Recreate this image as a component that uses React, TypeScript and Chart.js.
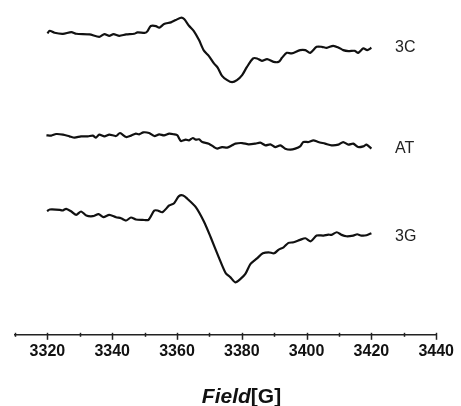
import React, { useEffect, useRef } from "react";
import { Chart, registerables } from "chart.js";

Chart.register(...registerables);

// Magnetic field (G) and signal intensity (a.u., stacked traces)
const field3C = [3320, 3320.7, 3322.2, 3324.8, 3327.4, 3328.9, 3333, 3336, 3337.6, 3339.1, 3340.4, 3342.2, 3344.3, 3346.8, 3347.8, 3350.2, 3350.9, 3351.9, 3353.5, 3354.5, 3356, 3358.1, 3359.6, 3361.2, 3362.2, 3363.7, 3365.2, 3366.8, 3368.3, 3369.8, 3371.4, 3372.6, 3373.9, 3375.5, 3377, 3378.5, 3380.1, 3381.6, 3383.5, 3384.7, 3386.2, 3387.8, 3389.8, 3391.4, 3392.4, 3393.9, 3395.4, 3398, 3399.6, 3401.1, 3403.1, 3404.7, 3406.2, 3408.2, 3409.8, 3411.3, 3412.9, 3414.9, 3415.9, 3417.5, 3418.7, 3420];
const signal3C = [300.7, 303.3, 301.3, 300.3, 302, 300.3, 299.7, 297.3, 300, 298.3, 300, 298.3, 299.7, 300.3, 301.7, 301.3, 303, 308, 308, 306.3, 310, 311.7, 314, 316.3, 315, 308.3, 303, 294, 283.5, 278.3, 270.7, 266.3, 258.3, 254, 252, 254, 259, 267.3, 275.7, 275.7, 273.3, 275, 272.3, 272.3, 276.3, 281.3, 280.7, 284, 284, 281.3, 287.3, 287.3, 286.3, 288.3, 286.7, 284, 283, 283.3, 281.3, 285.7, 284, 286.3];

const fieldAT = [3319.7, 3321.2, 3322.7, 3324.8, 3326.8, 3328.4, 3330.4, 3332.5, 3334, 3335, 3336, 3337.6, 3339.1, 3341.2, 3342.4, 3344.3, 3345.8, 3347.3, 3348.3, 3349.6, 3351.4, 3353, 3354.5, 3356, 3357.6, 3359.1, 3360.1, 3361.2, 3362.7, 3363.7, 3364.9, 3365.8, 3366.8, 3367.8, 3369.8, 3371.4, 3372.4, 3373.9, 3375.5, 3377, 3378, 3380.1, 3382.1, 3384.2, 3385.7, 3387.3, 3388.8, 3390.3, 3391.9, 3393.4, 3395, 3396.5, 3398, 3399, 3400.6, 3402.1, 3403.6, 3405.7, 3407.7, 3409.8, 3411.3, 3412.9, 3414.4, 3415.9, 3417.5, 3418.5, 3420];
const signalAT = [199, 198.7, 200.3, 199.7, 198, 196.7, 198, 198, 198.7, 196.7, 199.7, 198, 199.7, 198.3, 201.3, 197.3, 198.7, 200.7, 200, 202, 201.3, 198.3, 200, 199, 200.7, 200, 199, 193.3, 194.7, 194, 196.3, 194.7, 195, 192.3, 190.7, 187.3, 185.7, 187.3, 186.7, 189, 190.7, 191.3, 190, 190.7, 191.7, 189, 190, 187.3, 189, 185.7, 184.7, 185.7, 188, 192.3, 192.3, 194, 192.3, 190.7, 189, 189.7, 192.3, 189.7, 190.7, 187.3, 188, 189.7, 185.7];

const field3G = [3319.9, 3320.7, 3323.8, 3324.6, 3325.8, 3327.4, 3328.9, 3330.4, 3332, 3334, 3335.8, 3337.3, 3339.1, 3341.2, 3342.7, 3344.3, 3345.8, 3347.3, 3349.4, 3351.2, 3353, 3354, 3355.5, 3357.6, 3359.1, 3360.6, 3361.9, 3363.2, 3365.8, 3368.3, 3370.4, 3372.9, 3375, 3376.5, 3378, 3379.6, 3381.1, 3382.7, 3384.7, 3386.5, 3388.3, 3390, 3391.4, 3392.9, 3394.4, 3396, 3398, 3399.6, 3401.3, 3403.1, 3405.2, 3406.7, 3407.7, 3409.3, 3410.8, 3412.3, 3414.4, 3415.6, 3416.9, 3418.5, 3420];
const signal3G = [123.3, 125, 124.7, 124, 125.7, 123, 119.7, 123, 119, 118.3, 120.3, 117.3, 119.7, 117.3, 116.3, 114, 117, 115, 114.7, 114.7, 124, 124, 122.3, 129, 131.3, 138.3, 139, 135.7, 127.3, 113, 97.3, 77.3, 61.7, 57.3, 52.3, 55.7, 60.7, 70.7, 76.3, 81.3, 82.3, 81.3, 85, 87.3, 91.7, 92.3, 94.7, 96.3, 93.3, 99, 99, 100, 99.7, 102.3, 99.7, 98.3, 99, 100.3, 99, 99.3, 101.3];

const seriesNames = ["3C", "AT", "3G"];
const labelField = 3427.3;
const labelSignal = [287, 186, 98];

const fieldMin = 3310;
const fieldMax = 3440;
const tickStep = 10;
const labelStep = 20;
const signalMin = 0;
const signalMax = 334;

const FONT = '"Liberation Sans", Arial, Helvetica, sans-serif';

export default function App() {
  const ref = useRef<HTMLCanvasElement | null>(null);

  useEffect(() => {
    if (!ref.current) return;
    const toPts = (xs: number[], ys: number[]) => xs.map((x, i) => ({ x, y: ys[i] }));
    const series = [
      toPts(field3C, signal3C),
      toPts(fieldAT, signalAT),
      toPts(field3G, signal3G),
    ];

    const decor = {
      id: "decor",
      afterDraw(chart: any) {
        const ctx = chart.ctx;
        const xs = chart.scales.x;
        const ys = chart.scales.y;
        const yAxis = chart.chartArea.bottom;
        ctx.save();
        ctx.strokeStyle = "#222";
        ctx.lineWidth = 1.5;
        for (let v = fieldMin; v <= fieldMax; v += tickStep) {
          const px = Math.round(xs.getPixelForValue(v)) + 0.5;
          const major = v % labelStep === 0;
          ctx.beginPath();
          ctx.moveTo(px, yAxis - 2);
          ctx.lineTo(px, yAxis + (major ? 5 : 2));
          ctx.stroke();
        }
        // series labels
        ctx.fillStyle = "#222";
        ctx.font = `16px ${FONT}`;
        ctx.textAlign = "left";
        ctx.textBaseline = "middle";
        seriesNames.forEach((n, i) => {
          ctx.fillText(n, xs.getPixelForValue(labelField), ys.getPixelForValue(labelSignal[i]));
        });
        // axis title
        const p1 = "Field";
        const p2 = "[G]";
        const f1 = `italic bold 21px ${FONT}`;
        const f2 = `bold 21px ${FONT}`;
        ctx.font = f1;
        const w1 = ctx.measureText(p1).width;
        ctx.font = f2;
        const w2 = ctx.measureText(p2).width;
        const cx = 241.5;
        const start = cx - (w1 + w2) / 2;
        ctx.fillStyle = "#111";
        ctx.textBaseline = "alphabetic";
        ctx.font = f1;
        ctx.fillText(p1, start, 403);
        ctx.font = f2;
        ctx.fillText(p2, start + w1, 403);
        ctx.restore();
      },
    };

    const chart = new Chart(ref.current, {
      type: "line",
      data: {
        datasets: series.map((d, i) => ({
          label: seriesNames[i],
          data: d,
          borderColor: "#111",
          borderWidth: 2.2,
          pointRadius: 0,
          tension: 0.25,
          fill: false,
        })),
      },
      options: {
        animation: false,
        responsive: false,
        events: [],
        layout: { padding: { left: 15, right: 22.7, top: 0, bottom: 38 } },
        plugins: { legend: { display: false }, tooltip: { enabled: false }, title: { display: false } },
        scales: {
          x: {
            type: "linear",
            min: fieldMin,
            max: fieldMax,
            grid: { display: false, drawTicks: false },
            border: { display: true, color: "#222", width: 1.5 },
            ticks: {
              stepSize: tickStep,
              autoSkip: false,
              maxRotation: 0,
              padding: 7,
              color: "#111",
              font: { family: FONT, size: 16, weight: "bold" },
              callback: (v: any) => (Number(v) % labelStep === 0 ? String(v) : ""),
            },
          },
          y: {
            display: false,
            min: signalMin,
            max: signalMax,
          },
        },
      },
      plugins: [decor],
    } as any);
    return () => chart.destroy();
  }, []);

  return (
    <div style={{ position: "fixed", left: 0, top: 0, width: 461, height: 406, background: "#fff" }}>
      <canvas ref={ref} width={461} height={406} style={{ display: "block", width: 461, height: 406 }} />
    </div>
  );
}
